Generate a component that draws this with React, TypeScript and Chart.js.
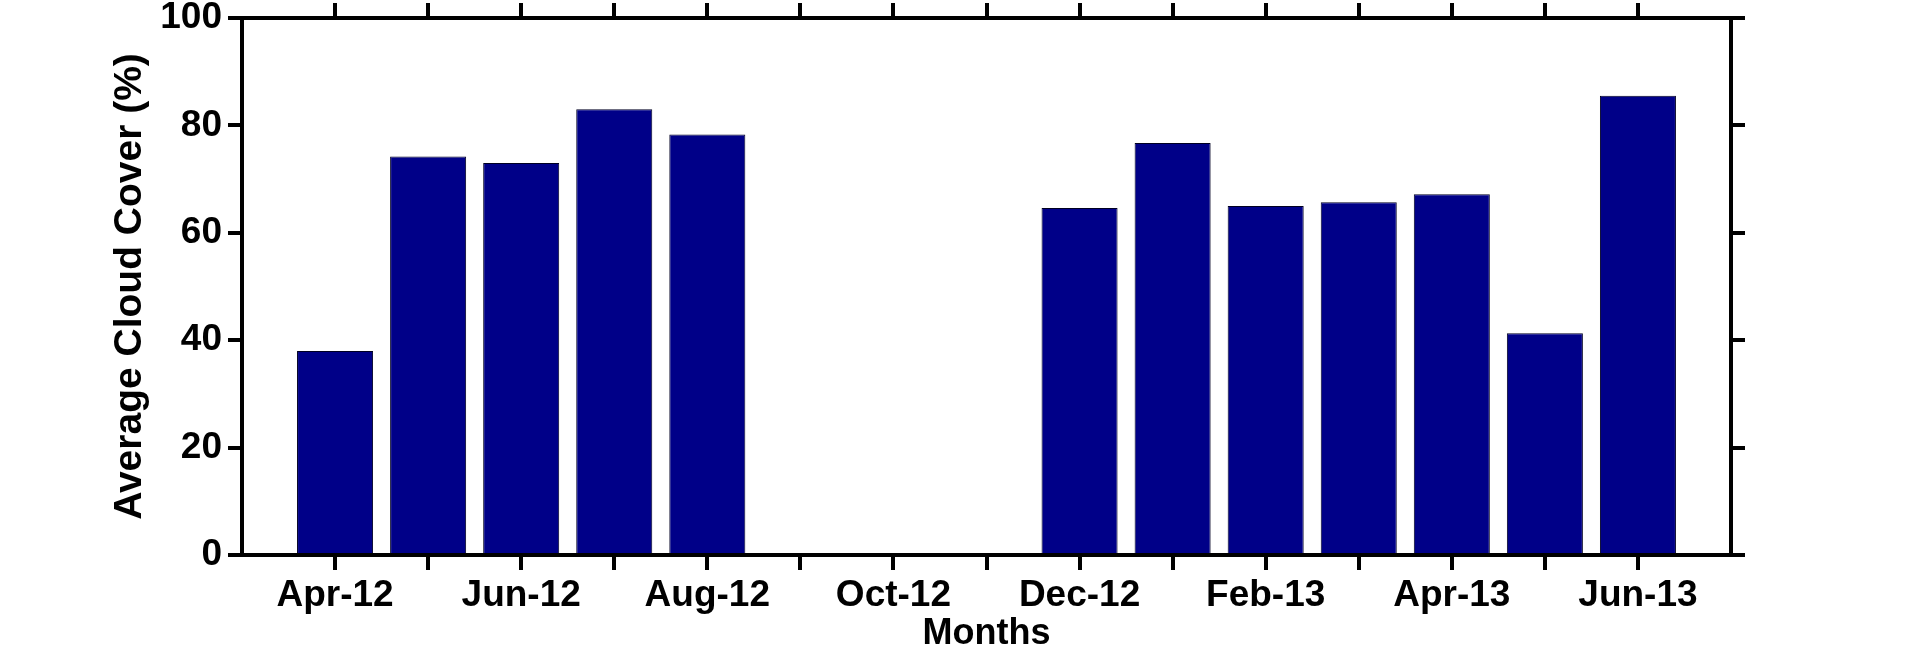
import { useEffect, useRef } from 'react';
import { Chart, registerables } from 'chart.js';

Chart.register(...registerables);

// one empty month on each side of the data, like the original axis
const months = [
  'Mar-12', 'Apr-12', 'May-12', 'Jun-12', 'Jul-12', 'Aug-12', 'Sep-12', 'Oct-12', 'Nov-12',
  'Dec-12', 'Jan-13', 'Feb-13', 'Mar-13', 'Apr-13', 'May-13', 'Jun-13', 'Jul-13',
];
const cloudCover = [
  null, 38.0, 74.2, 73.0, 83.0, 78.3, null, null, null,
  64.6, 76.7, 65.0, 65.7, 67.2, 41.3, 85.5, null,
];
const monthTickLabels = ['Apr-12', 'Jun-12', 'Aug-12', 'Oct-12', 'Dec-12', 'Feb-13', 'Apr-13', 'Jun-13'];
const percentTicks = [0, 20, 40, 60, 80, 100];

const FONT = '"Liberation Sans", Arial, sans-serif';
const W = 1920;
const H = 660;
const AREA = { left: 242, right: 1731, top: 18, bottom: 555 };

const hideEdgeTick = (ctx: any) =>
  ctx.index === 0 || ctx.index === months.length - 1 ? 'rgba(0,0,0,0)' : '#000';

export default function App() {
  const chartRef = useRef<HTMLCanvasElement>(null);
  const chartInstance = useRef<Chart | null>(null);

  useEffect(() => {
    document.body.style.margin = '0';
    if (!chartRef.current) return;
    const ctx = chartRef.current.getContext('2d');
    if (!ctx) return;

    if (chartInstance.current) chartInstance.current.destroy();

    const step = percentTicks[1] - percentTicks[0];

    chartInstance.current = new Chart(ctx, {
      type: 'bar',
      data: {
        labels: months,
        datasets: [{
          label: 'Average Cloud Cover (%)',
          data: cloudCover,
          backgroundColor: '#000088',
          borderColor: '#000022',
          borderWidth: 1,
          categoryPercentage: 1,
          barPercentage: 0.817,
        }],
      },
      options: {
        responsive: true,
        maintainAspectRatio: false,
        animation: false,
        layout: { padding: 0 },
        plugins: {
          legend: { display: false },
          tooltip: { enabled: false },
        },
        scales: {
          x: {
            type: 'category',
            position: 'bottom',
            offset: false,
            grid: {
              offset: false,
              drawOnChartArea: false,
              tickLength: 15,
              lineWidth: 4,
              tickColor: hideEdgeTick,
            },
            border: { display: true, color: '#000', width: 4 },
            ticks: {
              autoSkip: false,
              maxRotation: 0,
              minRotation: 0,
              padding: 4,
              color: '#000',
              font: { family: FONT, size: 37, weight: 'bold' },
              callback: (_v: any, i: number) => (monthTickLabels.includes(months[i]) ? months[i] : ''),
            },
            title: {
              display: true,
              text: 'Months',
              color: '#000',
              font: { family: FONT, size: 36, weight: 'bold', lineHeight: 1.2 },
              padding: { top: 0, bottom: 4 },
            },
            afterFit: (s: any) => {
              s.height = H - AREA.bottom;
              s.paddingLeft = 0;
              s.paddingRight = 0;
            },
          },
          x2: {
            type: 'category',
            position: 'top',
            offset: false,
            grid: {
              offset: false,
              drawOnChartArea: false,
              tickLength: 15,
              lineWidth: 4,
              tickColor: hideEdgeTick,
            },
            border: { display: true, color: '#000', width: 4 },
            ticks: { display: false },
            afterFit: (s: any) => {
              s.height = AREA.top;
              s.paddingLeft = 0;
              s.paddingRight = 0;
            },
          },
          y: {
            type: 'linear',
            position: 'left',
            min: percentTicks[0],
            max: percentTicks[percentTicks.length - 1],
            grid: {
              drawOnChartArea: false,
              tickLength: 14,
              lineWidth: 4,
              tickColor: '#000',
            },
            border: { display: true, color: '#000', width: 4 },
            ticks: {
              stepSize: step,
              padding: 6,
              color: '#000',
              font: { family: FONT, size: 37, weight: 'bold' },
            },
            title: {
              display: true,
              text: 'Average Cloud Cover (%)',
              color: '#000',
              font: { family: FONT, size: 39, weight: 'bold', lineHeight: 1.2 },
              padding: { top: 107, bottom: 0 },
            },
            afterFit: (s: any) => {
              s.width = AREA.left;
              s.paddingTop = 0;
              s.paddingBottom = 0;
            },
          },
          y2: {
            type: 'linear',
            position: 'right',
            min: percentTicks[0],
            max: percentTicks[percentTicks.length - 1],
            grid: {
              drawOnChartArea: false,
              tickLength: 14,
              lineWidth: 4,
              tickColor: '#000',
            },
            border: { display: true, color: '#000', width: 4 },
            ticks: { display: false, stepSize: step },
            afterFit: (s: any) => {
              s.width = W - AREA.right;
              s.paddingTop = 0;
              s.paddingBottom = 0;
            },
          },
        },
      },
    });

    return () => {
      if (chartInstance.current) {
        chartInstance.current.destroy();
        chartInstance.current = null;
      }
    };
  }, []);

  return (
    <div style={{ position: 'relative', width: W, height: H, background: '#fff' }}>
      <canvas ref={chartRef}></canvas>
    </div>
  );
}
